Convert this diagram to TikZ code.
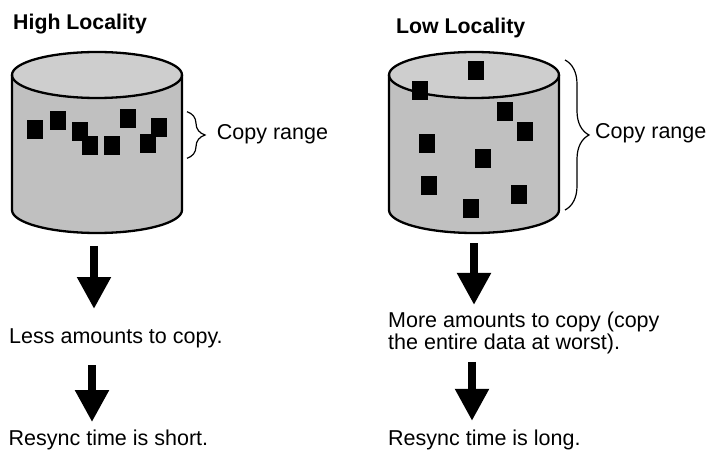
\documentclass[tikz,border=0pt]{standalone}
\usepackage{fontspec}
\setmainfont{Liberation Sans}
\usetikzlibrary{arrows.meta,decorations.pathreplacing}

\definecolor{bodygray}{RGB}{192,192,192}
\definecolor{topgray}{RGB}{206,206,206}

\tikzset{
  drumline/.style={line width=2.3pt, line join=round},
  fatarrow/.style={line width=8.3pt, -{Triangle[width=32pt,length=32pt]}},
  note/.style={inner sep=0pt, font=\fontsize{21.5}{21.5}\selectfont},
  heading/.style={note, font=\fontsize{21.3}{21.5}\selectfont\bfseries},
  range/.style={decorate, decoration={brace, amplitude=#1}, line width=1.2pt}
}

\begin{document}
\begin{tikzpicture}[x=1pt, y=1pt]
  \useasboundingbox (0,0) rectangle (706,450);

  % Define drum sizes
  \def\rx{85}    % half width
  \def\ry{23}    % half height of the lids
  \def\ytop{375} % centre of the top lid
  \def\ybot{240} % centre of the bottom lid

  % Draw the two drums
  \foreach \cx in {97,474} {
    \fill[bodygray] (\cx-\rx,\ybot) arc[start angle=180, end angle=360, x radius=\rx, y radius=\ry]
      -- (\cx+\rx,\ytop) -- (\cx-\rx,\ytop) -- cycle;
    \fill[topgray] (\cx,\ytop) ellipse[x radius=\rx, y radius=\ry];
    \draw[drumline] (\cx-\rx,\ytop) -- (\cx-\rx,\ybot)
      arc[start angle=180, end angle=360, x radius=\rx, y radius=\ry] -- (\cx+\rx,\ytop);
    \draw[drumline] (\cx,\ytop) ellipse[x radius=\rx, y radius=\ry];
  }
  \coordinate (hiBot) at (97,\ybot-\ry);
  \coordinate (loBot) at (474,\ybot-\ry);

  % Data blocks, close together (left) and spread out (right)
  \foreach \x/\y in {34.5/320.5, 58/329, 79.5/318.7, 90.3/304.7, 112/304.7,
                     128/331.3, 148/306.3, 158.7/322,
                     475.7/379.5, 420.3/359.7, 504.5/338.3, 524.7/318.7, 427.3/306,
                     483/291.3, 429/264.7, 519/255.8, 470.7/241.3} {
    \fill (\x-8,\y-9.5) rectangle ++(16,19);
  }

  % Titles
  \node[heading, anchor=base west] (hiTitle) at (13,420) {High Locality};
  \node[heading, anchor=base west] (loTitle) at (396,416.7) {Low Locality};

  % Copy ranges
  \draw[range=18pt] (187,338.3) -- (187,291.7);
  \node[note, anchor=base west] (hiRange) at (216.7,310.7) {Copy range};
  \draw[range=24pt] (565,390) -- (565,240);
  \node[note, anchor=base west] (loRange) at (595,311.7) {Copy range};

  % Consequences
  \node[note, anchor=base west] (hiLess) at (9,107) {Less amounts to copy.};
  \node[note, anchor=base west] (hiShort) at (8.5,4.6) {Resync time is short.};
  \node[note, anchor=north west, align=left] (loMore) at (388,138)
    {More amounts to copy (copy\\the entire data at worst).};
  \node[note, anchor=base west] (loLong) at (388,4.8) {Resync time is long.};

  % Arrows
  \draw[fatarrow, shorten <=13pt, shorten >=19pt] (hiBot -| 94,0) -- (hiLess.north -| 94,0);
  \draw[fatarrow, shorten <=17.6pt, shorten >=7.5pt] (hiLess.south -| 92,0) -- (hiShort.north -| 92,0);
  \draw[fatarrow, shorten <=10.3pt, shorten >=7pt] (loBot -| 474,0) -- (loMore.north -| 474,0);
  \draw[fatarrow, shorten <=8pt, shorten >=8.5pt] (loMore.south -| 472,0) -- (loLong.north -| 472,0);

\end{tikzpicture}
\end{document}
